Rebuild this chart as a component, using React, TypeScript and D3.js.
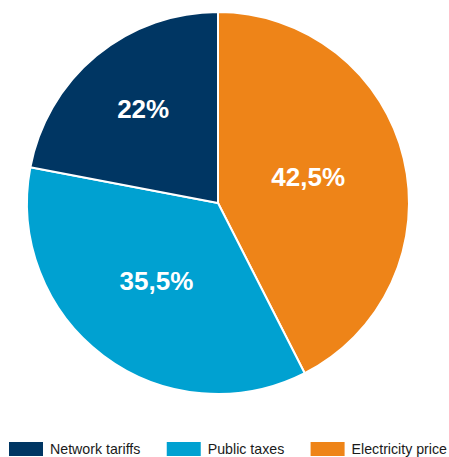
import React, { useEffect, useRef } from "react";
import * as d3 from "d3";

const categories = ["Electricity price", "Public taxes", "Network tariffs"];
const values = [42.5, 35.5, 22];
const valueLabels = ["42,5%", "35,5%", "22%"];
const colors = ["#ee8418", "#00a1d1", "#003663"];
const legendOrder = ["Network tariffs", "Public taxes", "Electricity price"];

const W = 449;
const H = 457;

export default function App() {
  const ref = useRef<SVGSVGElement | null>(null);

  useEffect(() => {
    const svg = d3.select(ref.current);
    svg.selectAll("*").remove();

    const cx = 218;
    const cy = 203;
    const r = 191;

    const pie = d3
      .pie<number>()
      .sort(null)
      .value((d) => d)
      .startAngle(0)
      .endAngle(2 * Math.PI);
    const arcs = pie(values);
    const arc = d3.arc<d3.PieArcDatum<number>>().innerRadius(0).outerRadius(r);

    const g = svg.append("g").attr("transform", `translate(${cx},${cy})`);
    g.selectAll("path")
      .data(arcs)
      .join("path")
      .attr("d", arc as any)
      .attr("fill", (_, i) => colors[i])
      .attr("stroke", "#ffffff")
      .attr("stroke-width", 2)
      .attr("stroke-linejoin", "round");

    // labels near the geometric centroid of each sector
    g.selectAll("text")
      .data(arcs)
      .join("text")
      .attr("transform", (d) => {
        const a = d.endAngle - d.startAngle;
        const mid = (d.startAngle + d.endAngle) / 2;
        const dist = (4 * r * Math.sin(a / 2)) / (3 * a);
        return `translate(${dist * Math.sin(mid)},${-dist * Math.cos(mid) - 4})`;
      })
      .attr("text-anchor", "middle")
      .attr("dominant-baseline", "central")
      .attr("fill", "#ffffff")
      .attr("font-family", "'Liberation Sans', Arial, sans-serif")
      .attr("font-weight", "bold")
      .attr("font-size", 26)
      .text((_, i) => valueLabels[i]);

    // legend, justified between left 9 and right 448
    const left = 9;
    const right = 447;
    const swatchW = 34;
    const textOff = 41;
    const lg = svg.append("g").attr("transform", `translate(${left},442)`);
    const items = legendOrder.map((name) => {
      const idx = categories.indexOf(name);
      const item = lg.append("g");
      item
        .append("rect")
        .attr("width", swatchW)
        .attr("height", 14)
        .attr("fill", colors[idx]);
      const t = item
        .append("text")
        .attr("x", textOff)
        .attr("y", 12)
        .attr("fill", "#1a1a1a")
        .attr("font-family", "'Liberation Sans', Arial, sans-serif")
        .attr("font-size", 14.2)
        .text(name);
      const w = (t.node() as SVGTextElement).getComputedTextLength();
      return { item, w: textOff + w };
    });
    const total = d3.sum(items, (d) => d.w);
    const gap = (right - left - total) / (items.length - 1);
    let x = 0;
    items.forEach((d) => {
      d.item.attr("transform", `translate(${x},0)`);
      x += d.w + gap;
    });
  }, []);

  return (
    <svg
      ref={ref}
      width={W}
      height={H}
      style={{ position: "absolute", left: 0, top: 0, background: "#fff" }}
    />
  );
}
